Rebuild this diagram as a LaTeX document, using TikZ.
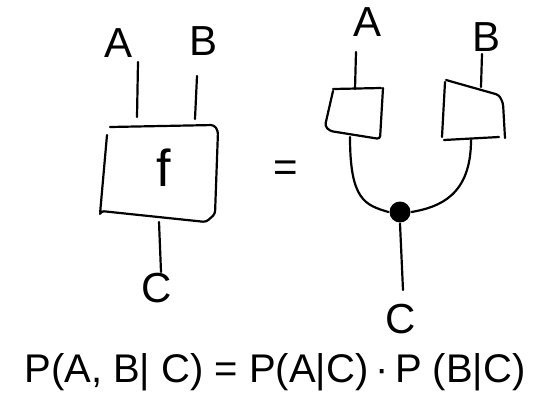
\documentclass[tikz,border=0pt]{standalone}
\usepackage{fontspec}
\setmainfont{Liberation Sans}
\begin{document}
\begin{tikzpicture}[x=1pt,y=-1pt,
  line width=2.2pt, line cap=round, line join=round,
  lbl/.style={font=\fontsize{42}{46}\selectfont, inner sep=0pt},
  wire/.style={line width=2.2pt},
  boxline/.style={line width=2.2pt, rounded corners=3pt},
  eqn/.style={font=\fontsize{40}{46}\selectfont, inner sep=0pt}]
\useasboundingbox (0,0) rectangle (541,405);
\fill[white] (0,0) rectangle (541,405);

% ---------- left: f box ----------
\node[lbl] (A1) at (119,43) {A};
\node[lbl] (B1) at (204,41) {B};
\coordinate (a1t) at (138,62);  \coordinate (a1b) at (137,117);
\coordinate (b1t) at (197,76);  \coordinate (b1b) at (195,119);
\draw[boxline] (110,127) -- (214,125) -- (218,131) -- (215,214) -- (206,222) -- (101,211) -- (100,214) -- (107,135);
\node[lbl, font=\fontsize{52}{56}\selectfont] (f) at (164,168) {f};
\coordinate (c1t) at (159,222); \coordinate (c1b) at (161,272);
\node[lbl] (C1) at (157,288) {C};
\draw[wire] (a1t) -- (a1b);
\draw[wire] (b1t) -- (b1b);
\draw[wire] (c1t) -- (c1b);

% ---------- equals ----------
\node[lbl] (eq) at (286,171) {=};

% ---------- right: split ----------
\node[lbl] (A2) at (368,22) {A};
\node[lbl] (B2) at (487,37) {B};
\coordinate (a2t) at (356,52);  \coordinate (a2b) at (355,89);
\coordinate (b2t) at (482,54);  \coordinate (b2b) at (481,87);
% left small box
\draw[boxline] (333,89) -- (381,88) (383,88) -- (380,139) -- (330,131) -- (325,126) -- (333,91);
% right small box
\draw[boxline] (446,80) -- (499,95) -- (503,103) -- (505,138);
\draw[boxline] (445,82) -- (442,137);
\draw[wire] (444,140) -- (499,137);
\coordinate (la) at (350,137);
\coordinate (rb) at (471,140);
\node[circle, fill=black, inner sep=0pt, minimum width=21pt, minimum height=19pt] (dot) at (400,212) {};
\coordinate (c2b) at (403,290);
\node[lbl] (C2) at (401,319) {C};
\draw[wire] (a2t) -- (a2b);
\draw[wire] (b2t) -- (b2b);
\draw[wire] (la) .. controls (350,200) and (365,205) .. (dot.west);
\draw[wire] (rb) .. controls (471,195) and (440,207) .. (dot.east);
\draw[wire] (dot.south) -- (c2b);

% ---------- equation ----------
\node[eqn] (eqtext) at (275,372) {P(A, B| C) = P(A|C)\,·\,P (B|C)};
\end{tikzpicture}
\end{document}
